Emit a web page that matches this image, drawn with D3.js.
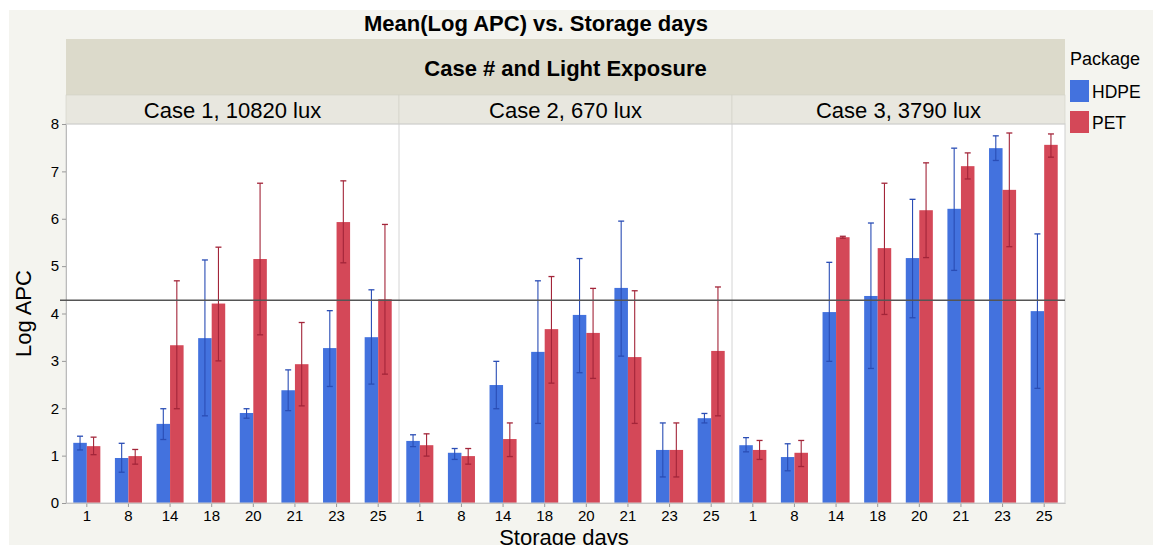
<!DOCTYPE html>
<html>
<head>
<meta charset="utf-8">
<script src="https://cdn.jsdelivr.net/npm/d3@7"></script>
<style>
  body { margin: 0; background: #fff; }
  text { font-family: "Liberation Sans", Arial, sans-serif; fill: #000; }
</style>
</head>
<body>
<svg id="chart"></svg>
<script>
// data
const cases = ["Case 1, 10820 lux", "Case 2, 670 lux", "Case 3, 3790 lux"];
const days = ["1", "8", "14", "18", "20", "21", "23", "25"];
const packages = ["HDPE", "PET"];

// mean Log APC, one row per case
const hdpeMean = [
  [1.27, 0.95, 1.67, 3.48, 1.90, 2.38, 3.27, 3.50],
  [1.31, 1.06, 2.49, 3.19, 3.97, 4.54, 1.12, 1.79],
  [1.22, 0.97, 4.03, 4.37, 5.17, 6.21, 7.49, 4.05]
];
const hdpeHigh = [
  [1.41, 1.26, 1.99, 5.13, 1.99, 2.81, 4.06, 4.50],
  [1.44, 1.15, 2.99, 4.69, 5.16, 5.95, 1.69, 1.89],
  [1.38, 1.25, 5.08, 5.91, 6.41, 7.49, 7.75, 5.68]
];
const hdpeLow = [
  [1.12, 0.65, 1.34, 1.84, 1.79, 1.95, 2.46, 2.51],
  [1.19, 0.92, 1.99, 1.68, 2.75, 3.10, 0.55, 1.69],
  [1.08, 0.68, 2.99, 2.84, 3.91, 4.91, 7.23, 2.42]
];
const petMean = [
  [1.20, 0.99, 3.33, 4.21, 5.15, 2.93, 5.93, 4.30],
  [1.22, 0.99, 1.35, 3.67, 3.59, 3.08, 1.12, 3.21],
  [1.12, 1.06, 5.61, 5.38, 6.18, 7.11, 6.61, 7.56]
];
const petHigh = [
  [1.39, 1.13, 4.69, 5.40, 6.75, 3.81, 6.80, 5.88],
  [1.46, 1.15, 1.69, 4.78, 4.53, 4.48, 1.69, 4.56],
  [1.32, 1.32, 5.63, 6.75, 7.18, 7.39, 7.81, 7.79]
];
const petLow = [
  [1.02, 0.82, 1.99, 3.00, 3.55, 2.05, 5.07, 2.72],
  [0.99, 0.82, 0.98, 2.53, 2.63, 1.68, 0.55, 1.84],
  [0.92, 0.77, 5.59, 3.98, 5.18, 6.84, 5.41, 7.30]
];
const refLine = 4.28;
const yTicks = [0, 1, 2, 3, 4, 5, 6, 7, 8];

const width = 1153, height = 545;
const plotLeft = 66, plotRight = 1065, plotTop = 124, plotBottom = 503;
const barColor = { HDPE: "#4372de", PET: "#d44858" };
const errColor = { HDPE: "#2a4db5", PET: "#a32539" };

const svg = d3.select("#chart")
  .attr("width", width)
  .attr("height", height)
  .attr("viewBox", [0, 0, width, height]);

// frame background
svg.append("rect")
  .attr("x", 9).attr("y", 10)
  .attr("width", width - 9).attr("height", height - 10)
  .attr("fill", "#f4f4ef");

// scales
const panel_scale = d3.scaleBand().domain(cases).range([plotLeft, plotRight]);
const y_scale = d3.scaleLinear().domain([0, 8]).range([plotBottom, plotTop]);
const x_scale = d3.scaleBand().domain(days).range([0, panel_scale.bandwidth()]).paddingInner(0.35).paddingOuter(0.175);
const pkg_scale = d3.scaleBand().domain(packages).range([0, x_scale.bandwidth()]);

// title
svg.append("text")
  .attr("x", 536).attr("y", 31)
  .attr("text-anchor", "middle")
  .style("font-size", "22px").style("font-weight", "bold")
  .text("Mean(Log APC) vs. Storage days");

// group header
svg.append("rect")
  .attr("x", plotLeft).attr("y", 39)
  .attr("width", plotRight - plotLeft).attr("height", 56)
  .attr("fill", "#dcdacb");
svg.append("text")
  .attr("x", (plotLeft + plotRight) / 2).attr("y", 76)
  .attr("text-anchor", "middle")
  .style("font-size", "22px").style("font-weight", "bold")
  .text("Case # and Light Exposure");

// plot background
svg.append("rect")
  .attr("x", plotLeft).attr("y", plotTop)
  .attr("width", plotRight - plotLeft).attr("height", plotBottom - plotTop)
  .attr("fill", "#fff");

cases.forEach((c, ci) => {
  const px = panel_scale(c);
  const pw = panel_scale.bandwidth();

  // panel strip
  svg.append("rect")
    .attr("x", px).attr("y", 95)
    .attr("width", pw).attr("height", 29)
    .attr("fill", "#e8e7df")
    .attr("stroke", "#d0cfc6").attr("stroke-width", 0.6);
  svg.append("text")
    .attr("x", px + pw / 2).attr("y", 117.5)
    .attr("text-anchor", "middle")
    .style("font-size", "22px")
    .text(c);

  const g = svg.append("g").attr("transform", `translate(${px}, 0)`);

  const series = {
    HDPE: { mean: hdpeMean[ci], hi: hdpeHigh[ci], lo: hdpeLow[ci] },
    PET: { mean: petMean[ci], hi: petHigh[ci], lo: petLow[ci] }
  };

  packages.forEach(p => {
    const s = series[p];
    // bars
    g.selectAll(null)
      .data(days)
      .join("rect")
      .attr("x", (d) => x_scale(d) + pkg_scale(p))
      .attr("y", (d, i) => y_scale(s.mean[i]))
      .attr("width", pkg_scale.bandwidth())
      .attr("height", (d, i) => y_scale(0) - y_scale(s.mean[i]))
      .attr("fill", barColor[p]);
  });

  packages.forEach(p => {
    const s = series[p];
    const cx = (d) => x_scale(d) + pkg_scale(p) + pkg_scale.bandwidth() / 2;
    // error bar stems
    g.selectAll(null)
      .data(days)
      .join("line")
      .attr("x1", cx).attr("x2", cx)
      .attr("y1", (d, i) => y_scale(s.hi[i]))
      .attr("y2", (d, i) => y_scale(s.lo[i]))
      .attr("stroke", errColor[p]).attr("stroke-width", 1.1);
    // caps
    ["hi", "lo"].forEach(k => {
      g.selectAll(null)
        .data(days)
        .join("line")
        .attr("x1", (d) => cx(d) - 3).attr("x2", (d) => cx(d) + 3)
        .attr("y1", (d, i) => y_scale(s[k][i]))
        .attr("y2", (d, i) => y_scale(s[k][i]))
        .attr("stroke", errColor[p]).attr("stroke-width", 1.3);
    });
  });

  // x axis per panel
  const x_axis = d3.axisBottom(x_scale).tickSize(4).tickSizeOuter(0);
  const gX = g.append("g")
    .attr("transform", `translate(0, ${plotBottom})`)
    .call(x_axis);
  gX.select(".domain").attr("stroke", "#bbb");
  gX.selectAll(".tick line").attr("stroke", "#999");
  gX.selectAll("text")
    .attr("y", 18).attr("dy", 0)
    .style("font-size", "15px")
    .style("font-family", "Liberation Sans, Arial, sans-serif");

  // panel separators
  if (ci > 0) {
    svg.append("line")
      .attr("x1", px).attr("x2", px)
      .attr("y1", plotTop).attr("y2", plotBottom)
      .attr("stroke", "#d4d4d4");
  }
});

// plot border
svg.append("rect")
  .attr("x", plotLeft).attr("y", plotTop)
  .attr("width", plotRight - plotLeft).attr("height", plotBottom - plotTop)
  .attr("fill", "none").attr("stroke", "#cfcfcf");

// y axis
const y_axis = d3.axisLeft(y_scale).tickValues(yTicks).tickSize(4).tickSizeOuter(0);
const gY = svg.append("g")
  .attr("transform", `translate(${plotLeft}, 0)`)
  .call(y_axis);
gY.select(".domain").attr("stroke", "#bbb");
gY.selectAll(".tick line").attr("stroke", "#999");
gY.selectAll("text")
  .style("font-size", "15px")
  .style("font-family", "Liberation Sans, Arial, sans-serif");

// reference line
svg.append("line")
  .attr("x1", plotLeft - 6).attr("x2", plotRight)
  .attr("y1", y_scale(refLine)).attr("y2", y_scale(refLine))
  .attr("stroke", "#555").attr("stroke-width", 1.3);

// axis titles
svg.append("text")
  .attr("transform", `translate(31, ${(plotTop + plotBottom) / 2}) rotate(-90)`)
  .attr("text-anchor", "middle")
  .style("font-size", "22px")
  .text("Log APC");
svg.append("text")
  .attr("x", 564).attr("y", 545)
  .attr("text-anchor", "middle")
  .style("font-size", "22px")
  .text("Storage days");

// legend
const legend = svg.append("g").attr("transform", "translate(1070, 0)");
legend.append("text")
  .attr("x", 0).attr("y", 65)
  .style("font-size", "18px")
  .text("Package");
packages.forEach((p, i) => {
  const item = legend.append("g").attr("transform", `translate(0, ${80 + i * 31})`);
  item.append("rect")
    .attr("x", 0).attr("y", 0)
    .attr("width", 19).attr("height", 22)
    .attr("fill", barColor[p]);
  item.append("text")
    .attr("x", 22).attr("y", 18)
    .style("font-size", "17.5px")
    .text(p);
});
</script>
</body>
</html>
